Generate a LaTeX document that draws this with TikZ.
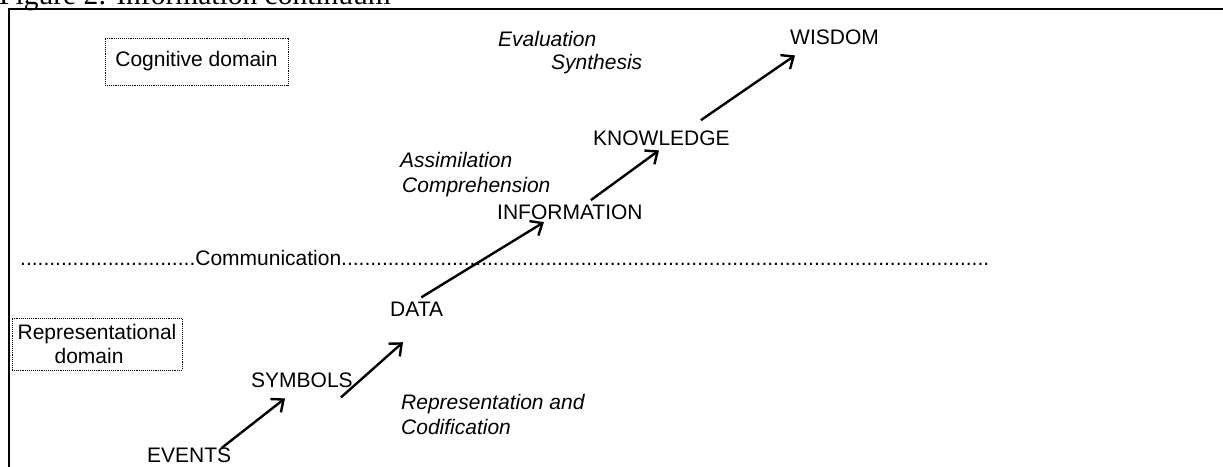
\documentclass[tikz,border=0pt]{standalone}
\usepackage{fontspec}
\setmainfont{Liberation Sans}
\newfontfamily\captionserif{Liberation Serif}
\usetikzlibrary{arrows.meta}
% a run of n full stops
\newcommand\stoprun[1]{\foreach \k in {1,...,#1}{.}}
\begin{document}
\begin{tikzpicture}[x=1pt,y=-1pt,
  lbl/.style={inner sep=0pt, font=\fontsize{21}{24}\selectfont},
  act/.style={inner sep=0pt, font=\fontsize{21}{24}\selectfont\itshape},
  captiontext/.style={inner sep=0pt, font=\captionserif\fontsize{29.5}{32}\selectfont},
  domainbox/.style={draw, densely dotted, line width=0.9pt, inner sep=0pt, font=\fontsize{21}{24}\selectfont},
  flow/.style={line width=2.4pt, -{Straight Barb[length=10pt,width=17pt,line width=2.4pt]}}]
\useasboundingbox (0,0) rectangle (1223,466);
% caption above the frame
\node[captiontext, anchor=base west] (caption) at (-1,4) {Figure 2: Information continuum};
% frame: top and left edges
\draw[line width=2.4pt] (9,520) -- (9,9) -- (1260,9);

% domain labels
\node[domainbox, minimum width=183pt, minimum height=47pt] (cog) at (196.5,61.5) {Cognitive domain};
\node[domainbox, minimum width=170pt, minimum height=52pt, align=left] (rep) at (97,344) {Representational\\\hspace*{37pt}domain};

% boundary between the domains
\node[lbl, anchor=base west] (comm) at (20,265) {\stoprun{30}Communication\stoprun{111}};

% stages of the continuum
\node[lbl, anchor=base west] (ev) at (147,462) {EVENTS};
\node[lbl, anchor=base west] (sym) at (251,387) {SYMBOLS};
\node[lbl, anchor=base west] (data) at (390,316) {DATA};
\node[lbl, anchor=base west] (info) at (497,219) {INFORMATION};
\node[lbl, anchor=base west] (know) at (593,145) {KNOWLEDGE};
\node[lbl, anchor=base west] (wis) at (790,44) {WISDOM};

% processes
\node[act, anchor=base west] (eval) at (498,46) {Evaluation};
\node[act, anchor=base west] (synth) at (551,69) {Synthesis};
\node[act, anchor=base west] (assim) at (400,167) {Assimilation};
\node[act, anchor=base west] (compr) at (402,192) {Comprehension};
\node[act, anchor=base west] (repr) at (401,409) {Representation and};
\node[act, anchor=base west] (codif) at (401,434) {Codification};

% arrows between stages
\draw[flow] ([shift={(-10,1)}]ev.north east) -- ([shift={(34,11)}]sym.south west);
\draw[flow] ([shift={(-12,10)}]sym.south east) -- ([shift={(13,26)}]data.south west);
\draw[flow] ([shift={(-22,-4)}]data.north east) -- ([shift={(47,18)}]info.north west);
\draw[flow] ([shift={(-52,-4)}]info.north east) -- ([shift={(66,5)}]know.south west);
\draw[flow] ([shift={(-29,-10)}]know.north east) -- ([shift={(5,11)}]wis.south west);
\end{tikzpicture}
\end{document}
